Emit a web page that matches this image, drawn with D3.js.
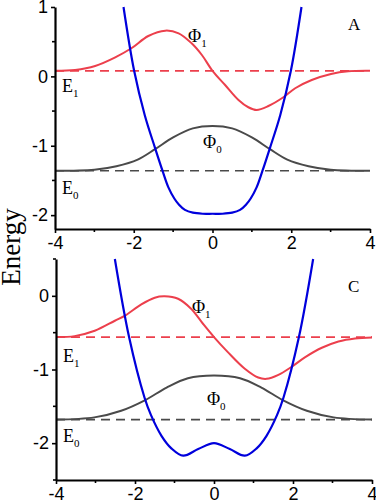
<!DOCTYPE html>
<html><head><meta charset="utf-8">
<script src="https://cdnjs.cloudflare.com/ajax/libs/d3/7.8.5/d3.min.js"></script>
<style>body{margin:0;background:#fff}svg{display:block}</style>
</head><body><svg id="chart" width="376" height="501"></svg>
<script>
// ---- data ----
const xTickValues = [-4, -2, 0, 2, 4];
const xMinorTicks = [-3, -1, 1, 3];
const yTicksA = [-2, -1, 0, 1];
const yMinorA = [-1.5, -0.5, 0.5];
const yTicksC = [-2, -1, 0];
const yMinorC = [-2.5, -1.5, -0.5, 0.5];

const levelsA = [0.08, -1.36];   // E1, E0
const levelsC = [-0.56, -1.68];  // E1, E0

const potentialA = [[-2.26,1.0],[-1.99,0.08],[-1.72,-0.56],[-1.46,-1.03],[-1.27,-1.36],[-1.12,-1.6],[-0.97,-1.76],[-0.85,-1.85],[-0.7,-1.925],[-0.5,-1.965],[-0.25,-1.98],[0,-1.98],[0.25,-1.98],[0.5,-1.965],[0.7,-1.925],[0.85,-1.85],[0.97,-1.76],[1.12,-1.6],[1.27,-1.36],[1.46,-1.03],[1.72,-0.56],[1.99,0.08],[2.26,1.0]];
const phi1A = [[-4,0.08],[-3.49,0.092],[-2.98,0.15],[-2.47,0.275],[-2.06,0.405],[-1.63,0.582],[-1.2,0.659],[-0.86,0.621],[-0.53,0.477],[-0.27,0.308],[0,0.08],[0.32,-0.124],[0.66,-0.34],[0.91,-0.445],[1.12,-0.484],[1.42,-0.427],[1.8,-0.301],[2.1,-0.171],[2.52,-0.052],[3.01,0.035],[3.45,0.073],[4,0.08]];
const phi0A = [[-4,-1.36],[-3.0,-1.345],[-2.44,-1.295],[-1.9,-1.2],[-1.46,-1.05],[-1.0,-0.88],[-0.5,-0.75],[0,-0.715],[0.5,-0.75],[1.0,-0.88],[1.46,-1.05],[1.9,-1.2],[2.44,-1.295],[3.0,-1.345],[4,-1.36]];

const potentialC = [[-2.51,0.5],[-2.15,-0.56],[-1.76,-1.38],[-1.595,-1.62],[-1.33,-1.9],[-1.08,-2.07],[-0.78,-2.17],[-0.4,-2.08],[0,-2.0],[0.4,-2.08],[0.78,-2.17],[1.08,-2.07],[1.33,-1.9],[1.595,-1.62],[1.76,-1.38],[2.15,-0.56],[2.51,0.5]];
const phi1C = [[-4,-0.56],[-3.53,-0.547],[-3.02,-0.474],[-2.51,-0.338],[-2.24,-0.265],[-1.84,-0.116],[-1.5,-0.025],[-1.25,-0.007],[-0.91,-0.04],[-0.58,-0.175],[-0.28,-0.379],[0,-0.56],[0.35,-0.764],[0.78,-0.99],[1.12,-1.109],[1.33,-1.127],[1.63,-1.073],[1.95,-0.969],[2.31,-0.832],[2.73,-0.705],[3.15,-0.619],[3.57,-0.578],[4,-0.565]];
const phi0C = [[-4,-1.68],[-3.03,-1.65],[-2.35,-1.56],[-1.74,-1.415],[-1.2,-1.245],[-0.66,-1.118],[0,-1.082],[0.66,-1.118],[1.2,-1.245],[1.74,-1.415],[2.35,-1.56],[3.03,-1.65],[4,-1.68]];

// ---- drawing ----
const RED = "#ec3f4c", GRAY = "#4a4a4a", BLUE = "#0000dc";
const svg = d3.select("#chart");
svg.append("rect").attr("width",376).attr("height",501).attr("fill","#fff");

const fmt = d => (d < 0 ? "-" + Math.abs(d) : String(d));

function panel(opt) {
  const x = d3.scaleLinear().domain([-4, 4]).range(opt.xr);
  const y = d3.scaleLinear().domain(opt.yd).range(opt.yr);
  const g = svg.append("g");
  const line = d3.line().x(d => x(d[0])).y(d => y(d[1])).curve(d3.curveCatmullRom.alpha(0.5));

  g.selectAll(null).data(opt.levels).enter().append("line")
    .attr("x1", x(-4)).attr("x2", x(4))
    .attr("y1", d => y(d)).attr("y2", d => y(d))
    .attr("stroke", (d, i) => i === 0 ? RED : GRAY)
    .attr("stroke-width", 1.6).attr("stroke-dasharray", "9,6");

  g.append("path").datum(opt.phi0).attr("d", line).attr("fill","none").attr("stroke",GRAY).attr("stroke-width",2);
  g.append("path").datum(opt.phi1).attr("d", line).attr("fill","none").attr("stroke",RED).attr("stroke-width",2);
  g.append("path").datum(opt.pot).attr("d", line).attr("fill","none").attr("stroke",BLUE).attr("stroke-width",2.2);

  const ax = g.append("g").attr("transform", `translate(0,${opt.yr[0]})`)
    .call(d3.axisBottom(x).tickValues(xTickValues).tickFormat(fmt).tickSize(4).tickSizeOuter(0).tickPadding(3));
  const ay = g.append("g").attr("transform", `translate(${opt.xr[0]},0)`)
    .call(d3.axisLeft(y).tickValues(opt.yt).tickFormat(fmt).tickSize(4).tickSizeOuter(0).tickPadding(3));
  [ax, ay].forEach(a => {
    a.select(".domain").attr("stroke","#000").attr("stroke-width",2.2);
    a.selectAll(".tick line").attr("stroke","#000").attr("stroke-width",1.6);
    a.selectAll("text").attr("font-family","'Liberation Sans', Arial, sans-serif").attr("font-size",18).attr("fill","#000");
  });
  g.selectAll(null).data(xMinorTicks).enter().append("line")
    .attr("x1", d => x(d)).attr("x2", d => x(d))
    .attr("y1", opt.yr[0]).attr("y2", opt.yr[0] + 3)
    .attr("stroke","#000").attr("stroke-width",1.6);
  g.selectAll(null).data(opt.ym).enter().append("line")
    .attr("x1", opt.xr[0] - 3).attr("x2", opt.xr[0])
    .attr("y1", d => y(d)).attr("y2", d => y(d))
    .attr("stroke","#000").attr("stroke-width",1.6);

  const serif = "'Liberation Serif', 'Times New Roman', serif";
  function lab(xv, yv, main, sub) {
    const t = g.append("text").attr("x", x(xv)).attr("y", y(yv))
      .attr("font-family", serif).attr("font-size", 18).attr("fill", "#000").text(main);
    if (sub !== undefined) t.append("tspan").attr("font-size", 11).attr("dy", 5).text(sub);
  }
  opt.labels.forEach(l => lab(...l));
  g.append("text").attr("x", x(opt.tag[0])).attr("y", y(opt.tag[1]))
    .attr("font-family", serif).attr("font-size", 17).text(opt.tag[2]);
}

panel({
  xr: [55, 370], yd: [-2.2, 1], yr: [229, 7], yt: yTicksA, ym: yMinorA,
  levels: levelsA, pot: potentialA, phi1: phi1A, phi0: phi0A,
  labels: [[-0.62, 0.5, "Φ", "1"], [-0.24, -1.03, "Φ", "0"], [-3.82, -0.22, "E", "1"], [-3.82, -1.7, "E", "0"]],
  tag: [3.44, 0.67, "A"]
});
panel({
  xr: [56, 372], yd: [-2.5, 0.5], yr: [480, 259], yt: yTicksC, ym: yMinorC,
  levels: levelsC, pot: potentialC, phi1: phi1C, phi0: phi0C,
  labels: [[-0.56, -0.23, "Φ", "1"], [-0.18, -1.48, "Φ", "0"], [-3.82, -0.9, "E", "1"], [-3.82, -1.99, "E", "0"]],
  tag: [3.39, 0.05, "C"]
});

svg.append("text").attr("transform", "translate(20,247) rotate(-90)")
  .attr("text-anchor", "middle").attr("font-family", "'Liberation Serif', 'Times New Roman', serif")
  .attr("font-size", 27).attr("fill", "#000").text("Energy");
</script>
</body></html>
